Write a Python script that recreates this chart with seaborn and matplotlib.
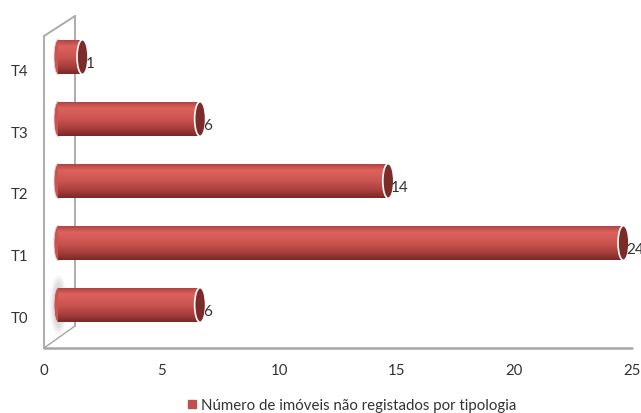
import matplotlib
matplotlib.use('Agg')
import numpy as np
import pandas as pd
import seaborn as sns
import matplotlib.pyplot as plt
from matplotlib.patches import Ellipse
from matplotlib.lines import Line2D
from matplotlib.transforms import ScaledTranslation
from matplotlib.colors import LinearSegmentedColormap

categories = ['T4', 'T3', 'T2', 'T1', 'T0']
values = [1, 6, 14, 24, 6]
series_name = 'Número de imóveis não registados por tipologia'
x_ticks = [0, 5, 10, 15, 20, 25]

sns.set_theme(style='white')
plt.rcParams['font.family'] = ['Lato', 'DejaVu Sans']

fig = plt.figure(figsize=(6.41, 4.14), dpi=100)
ax = fig.add_axes([44/641, 65/414, 588/641, 312/414])
df = pd.DataFrame({'tipologia': categories, 'valor': values})
sns.barplot(data=df, x='valor', y='tipologia', order=categories, orient='h',
            color='#c0504d', width=0.56, saturation=1, ax=ax)

off = ScaledTranslation(14/100, 0, fig.dpi_scale_trans)
tr = ax.transData + off

cmap = LinearSegmentedColormap.from_list('cyl', [(0, '#a9423f'), (0.2, '#dc625e'), (0.5, '#cd5551'),
                                                  (0.8, '#a53e3b'), (1, '#7a2927')])
grad = np.linspace(0, 1, 64).reshape(-1, 1)

px_per_x = 588/25
px_per_y = 62
for p in list(ax.patches):
    x0, y0, w, h = p.get_x(), p.get_y(), p.get_width(), p.get_height()
    p.set_transform(tr)
    p.set_facecolor('none')
    p.set_edgecolor('none')
    lc = Ellipse((x0, y0 + h/2), 8/px_per_x, h, transform=tr, facecolor='#c85551',
                 edgecolor='#eccccb', lw=0.6, zorder=1.9)
    ax.add_patch(lc)
    im = ax.imshow(grad, aspect='auto', cmap=cmap, extent=(x0, x0 + w, y0 + h, y0),
                   transform=tr, zorder=2, interpolation='bilinear')
    im.set_clip_path(p)
    ec = Ellipse((x0 + w + 1/px_per_x, y0 + h/2), 11/px_per_x, h, transform=tr,
                 facecolor='#7b2c2a', edgecolor='white', lw=1.2, zorder=3)
    ax.add_patch(ec)

# shadow near T0
for k, a in enumerate([0.08, 0.1, 0.12]):
    ax.add_patch(Ellipse((0.02, 4), 0.75 - 0.15*k, 0.95 - 0.1*k, transform=tr, facecolor='#8a8a8a',
                         alpha=a, edgecolor='none', zorder=1))

for i, v in enumerate(values):
    ax.text(v + 4/px_per_x, i + 6/px_per_y, str(v), transform=tr, ha='left', va='center',
            fontsize=11, color='#333333', zorder=4)

ax.set_xlim(0, 25)
ax.set_ylim(4 + 43/62, 4 + 43/62 - 312/62)
ax.set_xticks(x_ticks)
ax.set_xticklabels([str(t) for t in x_ticks])
ax.set_yticks(np.arange(len(categories)) + 12/62)
ax.set_yticklabels(categories)
ax.set_xlabel('')
ax.set_ylabel('')
ax.tick_params(axis='y', length=0, pad=11, labelsize=10.8, labelcolor='#333333')
ax.tick_params(axis='x', length=0, pad=10.5, labelsize=10.8, labelcolor='#333333')
for s in ax.spines.values():
    s.set_visible(False)

gc = '#a6a6a6'
dx, dyt, dyb = 31/588, 20/312, 22/312
ax.plot([0, 0], [0, 1], transform=ax.transAxes, color=gc, lw=1.3, clip_on=False, zorder=0.5)
ax.plot([0, 1], [0, 0], transform=ax.transAxes, color=gc, lw=1.8, clip_on=False, zorder=0.5)
ax.plot([0, dx], [1, 1 + dyt], transform=ax.transAxes, color=gc, lw=1.3, clip_on=False, zorder=0.5)
ax.plot([dx, dx], [1 + dyt, dyb], transform=ax.transAxes, color=gc, lw=1.3, clip_on=False, zorder=0.5)
ax.plot([0, dx], [0, dyb], transform=ax.transAxes, color=gc, lw=1.0, clip_on=False, zorder=0.5)

h = Line2D([], [], marker='s', color='#c0504d', linestyle='none', markersize=6)
fig.legend(handles=[h], labels=[series_name], loc='center',
           bbox_to_anchor=(351/641, 1 - 406/414), frameon=False, fontsize=10.8,
           handletextpad=0.2, handlelength=0.8, labelcolor='#333333')

fig.savefig('out.png', dpi=100)
